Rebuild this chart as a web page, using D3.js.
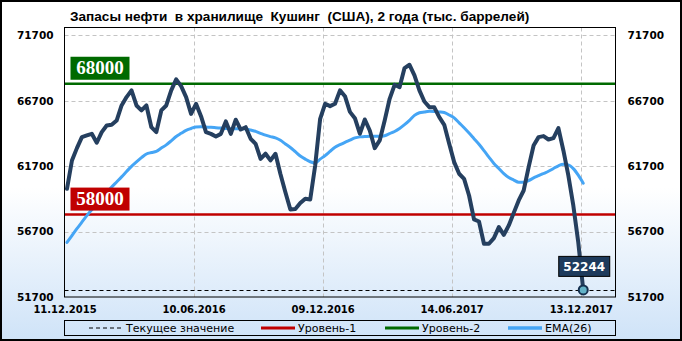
<!DOCTYPE html>
<html>
<head>
<meta charset="utf-8">
<script src="https://cdn.jsdelivr.net/npm/d3@7"></script>
<style>
  body { margin: 0; background: #fff; }
  svg { display: block; }
</style>
</head>
<body>
<div id="vis"></div>
<script>
const FRAME_WIDTH = 682;
const FRAME_HEIGHT = 341;
const PLOT = {left: 64.5, top: 27.5, right: 615.5, bottom: 297};

// weekly stocks, thousand barrels
const stocks = [
  59970, 62135, 63080, 63920, 64050, 64175, 63490, 64300, 64810, 64860,
  65190, 66340, 66980, 67490, 66340, 65960, 66340, 64680, 64300, 65960,
  66340, 67490, 68330, 67820, 66980, 65700, 66470, 65520, 64300, 64170,
  63970, 64170, 65120, 64170, 65250, 64500, 64680, 63790, 63410, 62260,
  62650, 62140, 62650, 61100, 59710, 58390, 58430, 58880, 59210, 59150,
  61750, 65320, 66470, 66290, 66470, 67490, 67050, 65850, 65370, 64180,
  65270, 64430, 63080, 63670, 65190, 66850, 67920, 67740, 69200, 69450,
  68640, 67490, 66640, 66210, 66200, 65450, 64860, 63410, 62010, 61120,
  60730, 59460, 57630, 57470, 55770, 55770, 56200, 57040, 56450, 57170,
  58130, 59080, 59840, 61630, 63280, 63920, 64000, 63740, 63840, 64610,
  62900, 60990, 58700, 55890, 52244
];

const ema26 = [
  55870, 56400, 56920, 57420, 57920, 58370, 58800, 59230, 59680, 60100,
  60490, 60880, 61290, 61690, 62030, 62350, 62630, 62740, 62830, 63080,
  63330, 63640, 63970, 64210, 64440, 64580, 64700, 64710, 64690, 64670,
  64640, 64610, 64580, 64560, 64560, 64570, 64560, 64460, 64360, 64210,
  64070, 63960, 63860, 63680, 63400, 63130, 62810, 62480, 62240, 62040,
  61950, 62240, 62510, 62830, 63150, 63340, 63520, 63690, 63860, 63940,
  63960, 63990, 63990, 63980, 64030, 64190, 64350, 64580, 64870, 65200,
  65580, 65780, 65840, 65890, 65880, 65850, 65800, 65610, 65390, 65010,
  64640, 64230, 63800, 63370, 62890, 62390, 61910, 61520, 61130, 60830,
  60640, 60470, 60480, 60600, 60800, 60970, 61140, 61310, 61520, 61730,
  61840, 61800, 61510, 61010, 60400
];

const dateLabels = ['11.12.2015', '10.06.2016', '09.12.2016', '14.06.2017', '13.12.2017'];
const dateIndex = [0, 26, 52, 78, 104];
const yTicks = [51700, 56700, 61700, 66700, 71700];
const level1 = 58000;
const level2 = 68000;
const TITLE = 'Запасы нефти  в хранилище  Кушинг  (США), 2 года (тыс. баррелей)';

const NAVY = '#253f5f';
const SKY = '#45a5f5';
const RED = '#c00000';
const GREEN = '#006a00';

const FRAME = d3.select('#vis')
  .append('svg')
    .attr('width', FRAME_WIDTH)
    .attr('height', FRAME_HEIGHT);

// background gradient
const grad = FRAME.append('defs').append('linearGradient')
  .attr('id', 'bg').attr('x1', 0).attr('y1', 0).attr('x2', 0).attr('y2', 1);
grad.append('stop').attr('offset', '0%').attr('stop-color', '#ffffff');
grad.append('stop').attr('offset', '55%').attr('stop-color', '#ffffff');
grad.append('stop').attr('offset', '100%').attr('stop-color', '#cfe3f8');

FRAME.append('rect')
  .attr('x', 1).attr('y', 1)
  .attr('width', FRAME_WIDTH - 2).attr('height', FRAME_HEIGHT - 2)
  .attr('fill', 'url(#bg)')
  .attr('stroke', '#000')
  .attr('stroke-width', 2);

FRAME.append('text')
  .attr('x', 70).attr('y', 20.5)
  .attr('xml:space', 'preserve')
  .style('white-space', 'pre')
  .attr('font-family', 'Liberation Sans, Arial, sans-serif')
  .attr('font-weight', 'bold')
  .attr('font-size', 13.6)
  .text(TITLE);

const X_SCALE = d3.scaleLinear().domain([0, 111]).range([PLOT.left, PLOT.right]);
const Y_SCALE = d3.scaleLinear().domain([51700, 72300]).range([PLOT.bottom, PLOT.top]);

// grid
const grid = FRAME.append('g')
  .attr('stroke', '#c4c4c4')
  .attr('stroke-dasharray', '4,3')
  .attr('stroke-width', 1);
grid.selectAll('.hg')
  .data(yTicks.slice(1))
  .enter().append('line')
    .attr('x1', PLOT.left).attr('x2', PLOT.right)
    .attr('y1', d => Math.round(Y_SCALE(d)) + 0.5)
    .attr('y2', d => Math.round(Y_SCALE(d)) + 0.5);
grid.selectAll('.vg')
  .data(dateIndex.slice(1))
  .enter().append('line')
    .attr('x1', d => Math.round(X_SCALE(d)) + 0.5)
    .attr('x2', d => Math.round(X_SCALE(d)) + 0.5)
    .attr('y1', PLOT.top).attr('y2', PLOT.bottom);

// axes (labels only)
function styleAxis(g) {
  g.select('.domain').remove();
  g.selectAll('text')
    .attr('fill', '#000')
    .attr('font-family', 'DejaVu Sans, sans-serif')
    .attr('font-weight', 'bold');
}

FRAME.append('g')
  .attr('transform', 'translate(' + PLOT.left + ',0)')
  .call(d3.axisLeft(Y_SCALE).tickValues(yTicks).tickSize(0).tickPadding(11).tickFormat(d3.format('d')))
  .call(styleAxis)
  .selectAll('text').attr('font-size', 10.5);

FRAME.append('g')
  .attr('transform', 'translate(' + PLOT.right + ',0)')
  .call(d3.axisRight(Y_SCALE).tickValues(yTicks).tickSize(0).tickPadding(12).tickFormat(d3.format('d')))
  .call(styleAxis)
  .selectAll('text').attr('font-size', 10.5);

FRAME.append('g')
  .attr('transform', 'translate(0,' + PLOT.bottom + ')')
  .call(d3.axisBottom(X_SCALE).tickValues(dateIndex).tickSize(0).tickPadding(9)
    .tickFormat((d, i) => dateLabels[i]))
  .call(styleAxis)
  .selectAll('text').attr('font-size', 10);

// current value dashed line
const last = stocks[stocks.length - 1];
FRAME.append('line')
  .attr('x1', PLOT.left).attr('x2', PLOT.right)
  .attr('y1', Math.round(Y_SCALE(last)) + 0.5)
  .attr('y2', Math.round(Y_SCALE(last)) + 0.5)
  .attr('stroke', '#000')
  .attr('stroke-dasharray', '4,3');

// level lines
[[level1, RED], [level2, GREEN]].forEach(([v, c]) => {
  FRAME.append('line')
    .attr('x1', PLOT.left).attr('x2', PLOT.right)
    .attr('y1', Y_SCALE(v)).attr('y2', Y_SCALE(v))
    .attr('stroke', c)
    .attr('stroke-width', 2.5);
});

// plot border
FRAME.append('rect')
  .attr('x', PLOT.left).attr('y', PLOT.top)
  .attr('width', PLOT.right - PLOT.left).attr('height', PLOT.bottom - PLOT.top)
  .attr('fill', 'none')
  .attr('stroke', '#000')
  .attr('stroke-width', 1);

// EMA
FRAME.append('path')
  .datum(ema26)
  .attr('fill', 'none')
  .attr('stroke', SKY)
  .attr('stroke-width', 3)
  .attr('stroke-linecap', 'round')
  .attr('d', d3.line()
    .x((d, i) => X_SCALE(i + 0.5))
    .y(d => Y_SCALE(d))
    .curve(d3.curveMonotoneX));

// stocks
FRAME.append('path')
  .datum(stocks)
  .attr('fill', 'none')
  .attr('stroke', NAVY)
  .attr('stroke-width', 4)
  .attr('stroke-linejoin', 'round')
  .attr('stroke-linecap', 'round')
  .attr('d', d3.line()
    .x((d, i) => X_SCALE(i + 0.5))
    .y(d => Y_SCALE(d)));

// level labels
[[level1, RED], [level2, GREEN]].forEach(([v, c]) => {
  const yb = Y_SCALE(v) - 4;
  FRAME.append('rect')
    .attr('x', 70.5).attr('y', yb - 23)
    .attr('width', 59).attr('height', 23)
    .attr('fill', c);
  FRAME.append('text')
    .attr('x', 100).attr('y', yb - 5.5)
    .attr('text-anchor', 'middle')
    .attr('fill', '#fff')
    .attr('font-family', 'Liberation Serif, Times New Roman, serif')
    .attr('font-weight', 'bold')
    .attr('font-size', 19)
    .text(v);
});

// end point + value label
const ex = X_SCALE(stocks.length - 0.5);
const ey = Y_SCALE(last);
FRAME.append('rect')
  .attr('x', ex - 24.5).attr('y', ey - 33.5)
  .attr('width', 51).attr('height', 20)
  .attr('fill', '#1d3a5c')
  .attr('stroke', '#000')
  .attr('stroke-width', 1);
FRAME.append('text')
  .attr('x', ex + 1).attr('y', ey - 18.5)
  .attr('text-anchor', 'middle')
  .attr('fill', '#fff')
  .attr('font-family', 'DejaVu Sans, sans-serif')
  .attr('font-weight', 'bold')
  .attr('font-size', 12)
  .text(last);
FRAME.append('circle')
  .attr('cx', ex).attr('cy', ey)
  .attr('r', 4.5)
  .attr('fill', '#63b3c8')
  .attr('stroke', '#15304f')
  .attr('stroke-width', 2);

// legend
const LEG = FRAME.append('g');
LEG.append('rect')
  .attr('x', PLOT.left).attr('y', 320.5)
  .attr('width', PLOT.right - PLOT.left).attr('height', 15)
  .attr('fill', 'none')
  .attr('stroke', '#000');

const legendItems = [
  {label: 'Текущее значение', color: '#000', dash: '4,3', width: 1, x: 89},
  {label: 'Уровень-1', color: RED, dash: null, width: 3, x: 261},
  {label: 'Уровень-2', color: GREEN, dash: null, width: 3, x: 385},
  {label: 'EMA(26)', color: SKY, dash: null, width: 3.5, x: 508}
];
legendItems.forEach(it => {
  LEG.append('line')
    .attr('x1', it.x).attr('x2', it.x + 34)
    .attr('y1', 328).attr('y2', 328)
    .attr('stroke', it.color)
    .attr('stroke-width', it.width)
    .attr('stroke-dasharray', it.dash);
  LEG.append('text')
    .attr('x', it.x + 37).attr('y', 332)
    .attr('font-family', 'DejaVu Sans, sans-serif')
    .attr('font-size', 11)
    .text(it.label);
});
</script>
</body>
</html>
